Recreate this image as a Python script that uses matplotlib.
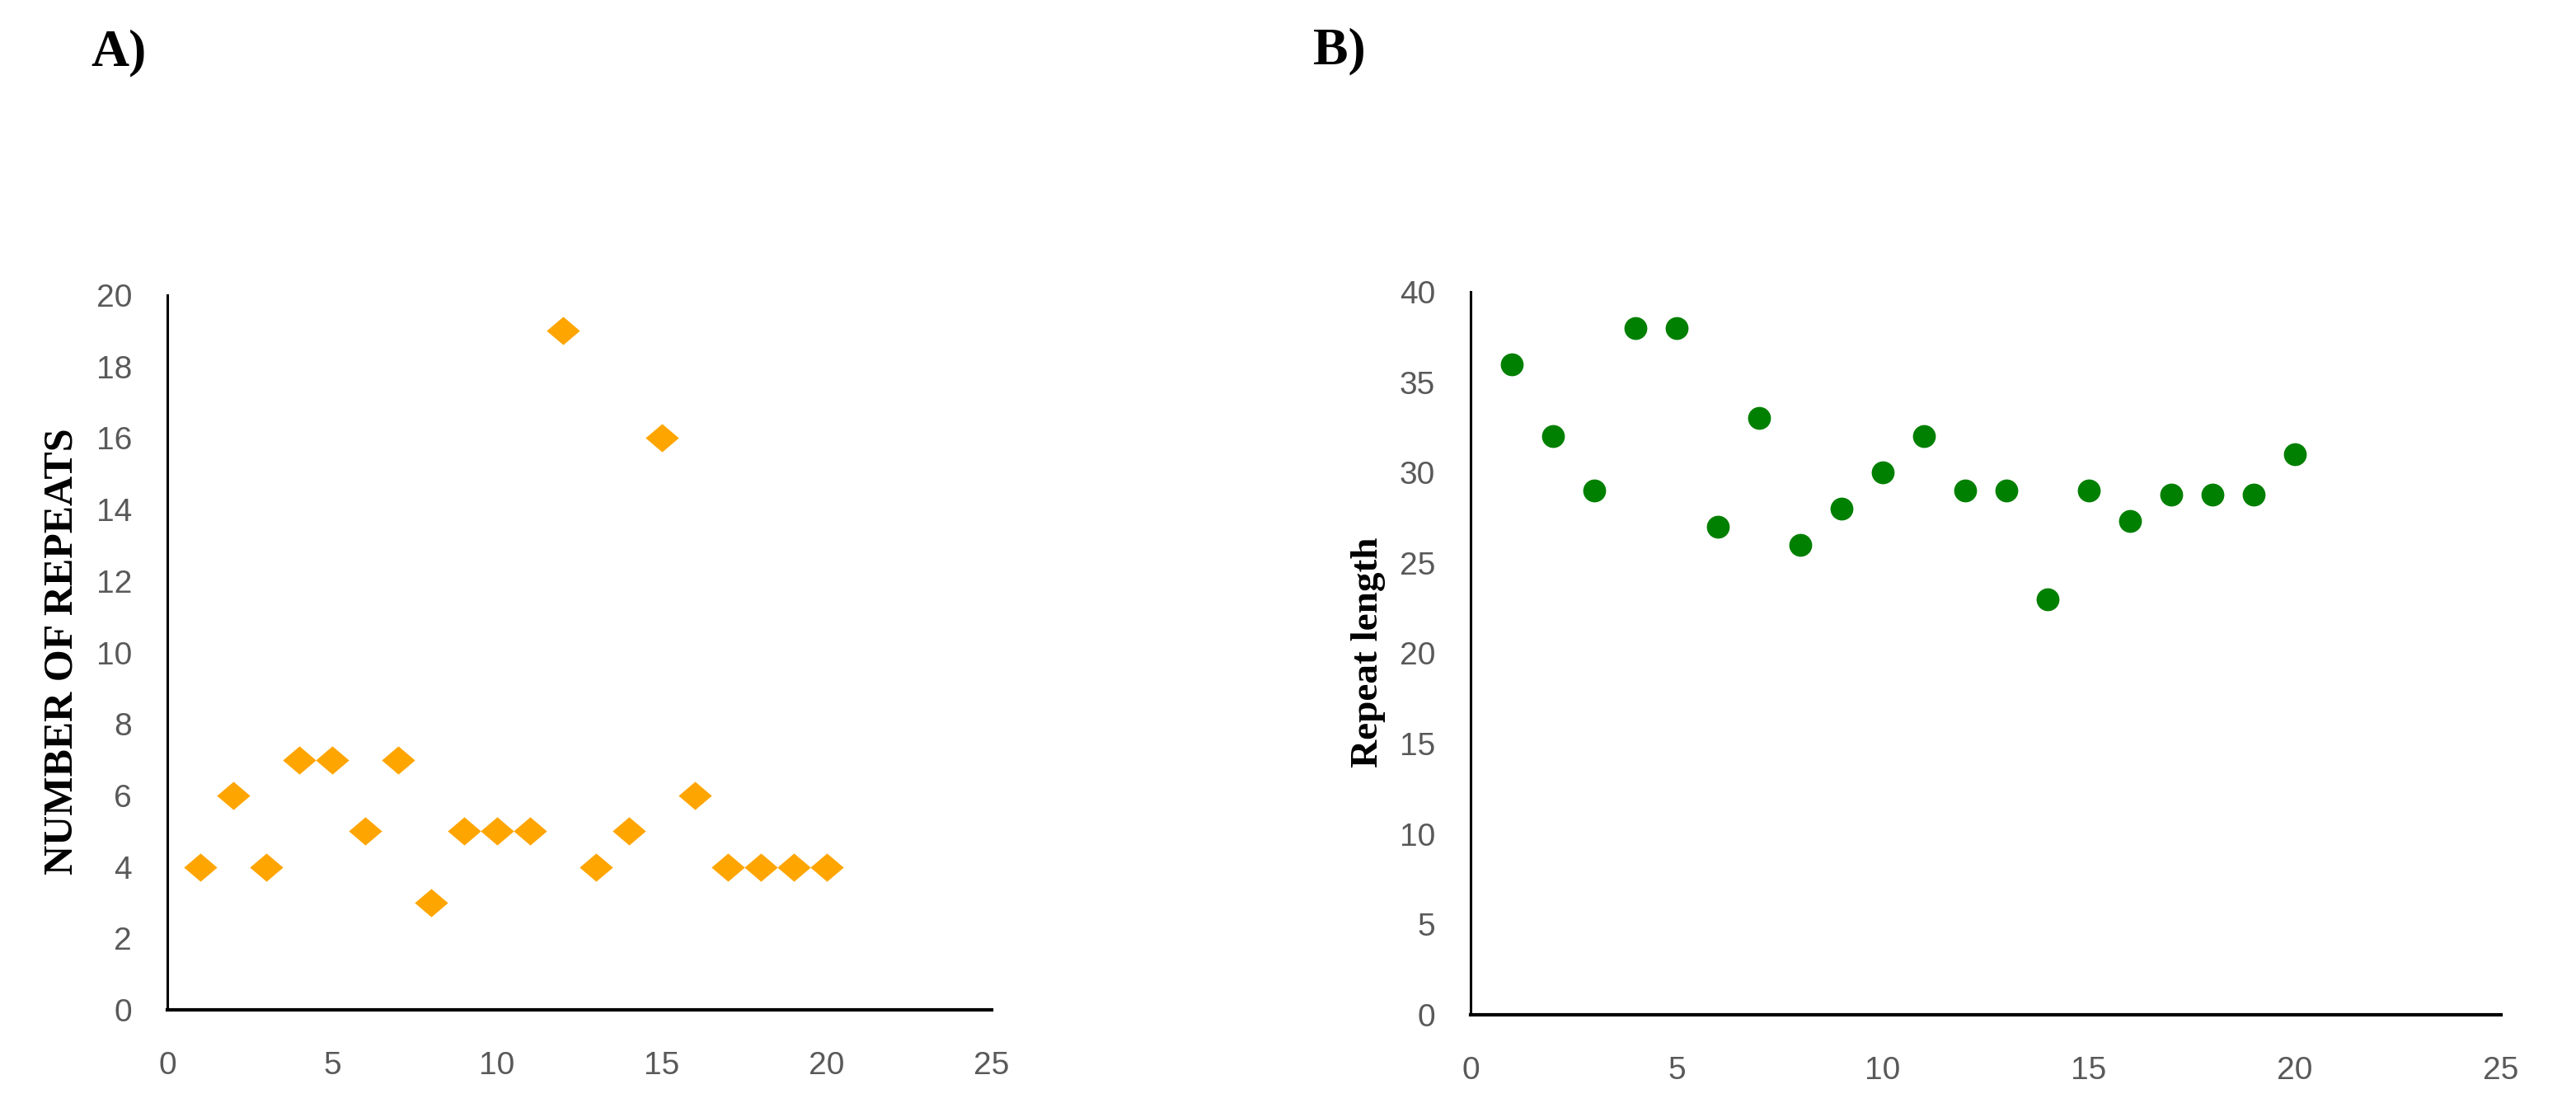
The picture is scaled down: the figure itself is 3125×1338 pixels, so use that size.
import matplotlib
matplotlib.use("Agg")
import matplotlib.pyplot as plt
import numpy as np

# ---- data ----
x_vals = list(range(1, 21))
repeats = [4, 6, 4, 7, 7, 5, 7, 3, 5, 5, 5, 19, 4, 5, 16, 6, 4, 4, 4, 4]
repeat_len = [36, 32, 29, 38, 38, 27, 33, 26, 28, 30, 32, 29, 29, 23, 29, 27.3, 28.8, 28.8, 28.8, 31]
xticks = [0, 5, 10, 15, 20, 25]
yticks_a = list(range(0, 21, 2))
yticks_b = list(range(0, 41, 5))
label_a = "NUMBER OF REPEATS"
label_b = "Repeat length"

W, H = 3125, 1338
fig = plt.figure(figsize=(W / 100, H / 100), dpi=100)
fig.patch.set_facecolor("white")

def fx(px):
    return px / W

def fy(py):
    return 1 - py / H

tick_font = dict(family="Liberation Sans", size=28, color="#595959")
serif_bold = dict(family="Liberation Serif", weight="bold", color="black")

diamond = [(-1, 0), (0, 0.85), (1, 0), (0, -0.85), (-1, 0)]

def style(ax, yticks, ymax):
    ax.set_xlim(0, 25)
    ax.set_ylim(0, ymax)
    ax.set_xticks(xticks)
    ax.set_yticks(yticks)
    ax.set_xticklabels([str(t) for t in xticks], **tick_font)
    ax.set_yticklabels([str(t) for t in yticks], **tick_font)
    ax.tick_params(axis="both", length=0)
    ax.tick_params(axis="y", pad=31)
    ax.tick_params(axis="x", pad=36)
    for s in ("top", "right"):
        ax.spines[s].set_visible(False)
    ax.spines["left"].set_linewidth(2.2)
    ax.spines["bottom"].set_linewidth(3.0)
    ax.spines["left"].set_color("black")
    ax.spines["bottom"].set_color("black")

# Panel A
axA = fig.add_axes([fx(203), fy(1225), fx(1203) - fx(203), fy(358) - fy(1225)])
axA.plot(x_vals, repeats, linestyle="none", marker=diamond, markersize=29,
         color="#FFA500", markeredgewidth=0, clip_on=False)
style(axA, yticks_a, 20)

# Panel B
axB = fig.add_axes([fx(1784), fy(1231), fx(3034) - fx(1784), fy(354) - fy(1231)])
axB.plot(x_vals, repeat_len, linestyle="none", marker="o", markersize=20,
         color="#008000", markeredgewidth=0, clip_on=False)
style(axB, yticks_b, 40)

# axis labels
fig.text(fx(76), fy(790), label_a, rotation=90, ha="center", va="center",
         size=36, **serif_bold)
fig.text(fx(1660), fy(791), label_b, rotation=90, ha="center", va="center",
         size=34, **serif_bold)

# panel letters
fig.text(fx(110), fy(79), "A)", ha="left", va="baseline", size=46, **serif_bold)
fig.text(fx(1593), fy(77), "B)", ha="left", va="baseline", size=46, **serif_bold)

fig.savefig("out.png", dpi=100, facecolor="white")
